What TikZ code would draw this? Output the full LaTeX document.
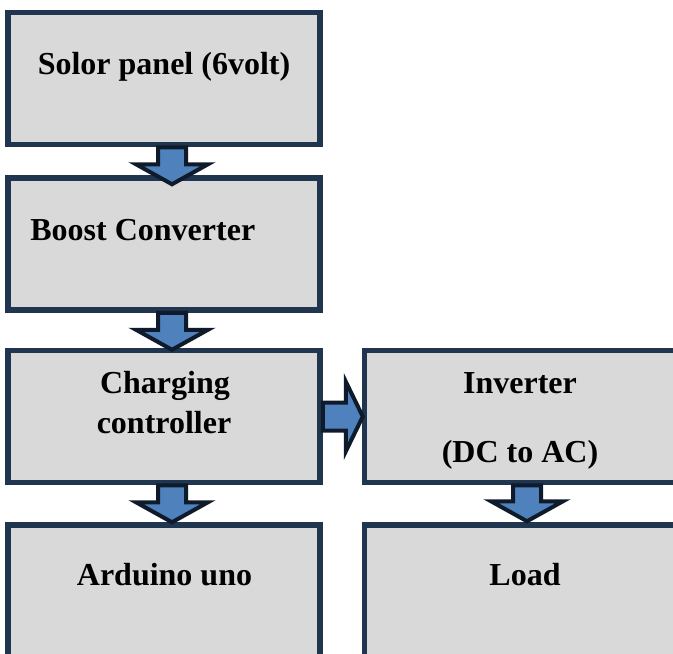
\documentclass[tikz,border=0pt]{standalone}
\usepackage{fontspec}
\setmainfont{Liberation Serif}
\usetikzlibrary{calc}
\definecolor{cajafondo}{HTML}{D9D9D9}
\definecolor{cajaborde}{HTML}{1F3550}
\definecolor{flechafondo}{HTML}{4F81BD}
\definecolor{flechaborde}{HTML}{0F1B2A}
% flecha gruesa hacia abajo: #1 inicio, #2 punta
\newcommand\flechaabajo[2]{%
  \draw[flecha] let \p1=(#1), \p2=(#2) in
    (\x1-7pt,\y1) -- (\x1-7pt,\y2+10pt) -- (\x1-18pt,\y2+10pt) -- (\x1,\y2)
    -- (\x1+18pt,\y2+10pt) -- (\x1+7pt,\y2+10pt) -- (\x1+7pt,\y1) -- cycle;}
% flecha gruesa hacia la derecha
\newcommand\flechader[2]{%
  \draw[flecha] let \p1=(#1), \p2=(#2) in
    (\x1,\y1-7pt) -- (\x2-8.5pt,\y1-7pt) -- (\x2-8.5pt,\y1-17.5pt) -- (\x2,\y1)
    -- (\x2-8.5pt,\y1+17.5pt) -- (\x2-8.5pt,\y1+7pt) -- (\x1,\y1+7pt) -- cycle;}

\begin{document}
\begin{tikzpicture}[x=0.5pt,y=-0.5pt,
	caja/.style={draw=cajaborde,fill=cajafondo,line width=2.75pt,minimum width=156pt,minimum height=66pt,inner sep=0pt},
	texto/.style={anchor=base,inner sep=0pt,font=\fontsize{16}{19}\selectfont\bfseries},
	flecha/.style={draw=flechaborde,fill=flechafondo,line width=2pt,line join=miter}]
	\useasboundingbox (0,0) rectangle (673,653);
	\clip (0,0) rectangle (673,653);
	% cajas
	\node[caja] (solar) at (164,78.5) {};
	\node[caja] (boost) at (164,244) {};
	\node[caja] (control) at (164,416.5) {};
	\node[caja] (arduino) at (164,591) {};
	\node[caja] (inversor) at (520.5,416.5) {};
	\node[caja] (carga) at (520.5,591) {};
	% flechas
	\flechaabajo{$(solar.south)+(8,0)$}{$(boost.north)+(8,9)$}
	\flechaabajo{$(boost.south)+(8,0)$}{$(control.north)+(8,2)$}
	\flechaabajo{$(control.south)+(8,0)$}{$(arduino.north)+(8,0)$}
	\flechaabajo{$(inversor.south)+(6.5,0)$}{$(carga.north)+(6.5,-1)$}
	\flechader{control.east}{$(inversor.west)+(1,0)$}
	% textos
	\node[texto] (tsolar) at (164,74) {Solor panel (6volt)};
	\node[texto,anchor=base west] (tboost) at (30,240) {Boost Converter};
	\node[texto] (tcharging) at (165,393) {Charging};
	\node[texto] (tcontrol) at (164,433) {controller};
	\node[texto] (tinversor) at (520,393) {Inverter};
	\node[texto] (tdcac) at (520,462) {(DC to AC)};
	\node[texto] (tarduino) at (164.5,585) {Arduino uno};
	\node[texto] (tcarga) at (525,585) {Load};
\end{tikzpicture}
\end{document}
